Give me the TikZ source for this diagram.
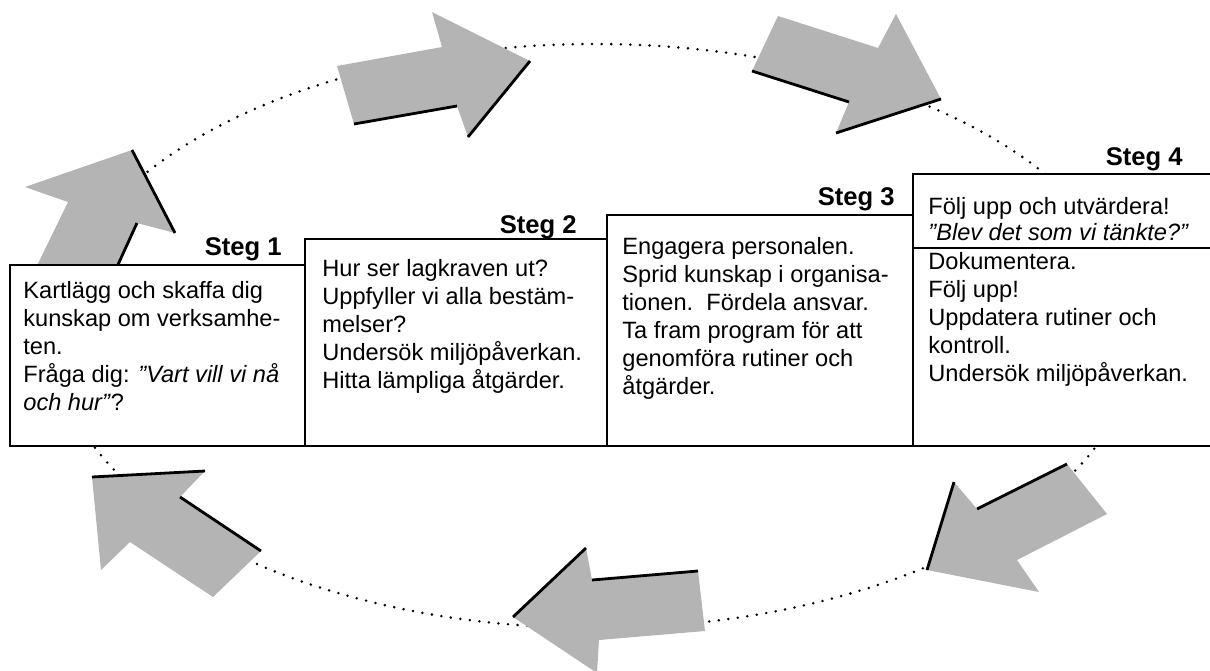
\documentclass[tikz,border=0pt]{standalone}
\usepackage{fontspec}
\setmainfont{Liberation Sans}
\definecolor{pilgra}{RGB}{180,180,180}

\begin{document}
\begin{tikzpicture}[x=0.5pt,y=-0.5pt,
    pil/.style={fill=pilgra,draw=none},
    kant/.style={draw=black,line width=1.4pt},
    ruta/.style={draw=black,fill=white,line width=1.4pt},
    prickar/.style={draw=black,line width=1.4pt,line cap=round,dash pattern=on 0pt off 4.8pt},
    steglabel/.style={anchor=base east,inner sep=0pt,font=\fontsize{12.8}{15}\selectfont\bfseries},
    rutatext/.style={anchor=base west,align=left,inner sep=0pt,font=\fontsize{11.8}{14}\selectfont}]
		\useasboundingbox (0,0) rectangle (1210,670);
		\clip (0,0) rectangle (1210,670);
		\draw [prickar] (595,336) ellipse [x radius=270.5pt, y radius=146pt];
		\fill [pil] (30,280) -- (68,202) -- (25,187) -- (132,150) -- (175,233) -- (137,223) -- (111,280) -- cycle;
		\draw [kant] (132,150) -- (175,233);
		\draw [kant] (137,223) -- (111,280);
		\fill [pil] (337,66) -- (442,47) -- (432,12) -- (530,61) -- (468,137) -- (457,106) -- (354,124) -- cycle;
		\draw [kant] (354,124) -- (457,106);
		\draw [kant] (468,137) -- (530,61);
		\fill [pil] (778,16) -- (878,48) -- (896,14) -- (941,99) -- (836,133) -- (849,102) -- (752,71) -- cycle;
		\draw [kant] (752,71) -- (849,102);
		\draw [kant] (836,133) -- (941,99);
		\fill [pil] (1067,464) -- (1107,514) -- (1017,560) -- (1039,592) -- (927,570) -- (954,482) -- (977,509) -- cycle;
		\draw [kant] (1067,464) -- (977,509);
		\draw [kant] (954,482) -- (927,570);
		\fill [pil] (698,571) -- (705,631) -- (599,640) -- (597,673) -- (513,617) -- (586,548) -- (592,580) -- cycle;
		\draw [kant] (513,617) -- (586,548);
		\draw [kant] (592,580) -- (698,571);
		\fill [pil] (92,477) -- (205,471) -- (180,497) -- (261,551) -- (213,597) -- (130,542) -- (101,570) -- cycle;
		\draw [kant] (92,477) -- (205,471);
		\draw [kant] (180,497) -- (261,551);
		\draw [ruta] (10,265) rectangle (305,446);
		\draw [ruta] (305,239) rectangle (607,446);
		\draw [ruta] (607,215) rectangle (913,446);
		\draw [ruta] (913,174) rectangle (1216,446);
		\draw [draw=black,line width=0.8pt] (913,248) -- (1210,248);
		\node [steglabel] (steg1) at (282,255) {Steg 1};
		\node [steglabel] (steg2) at (577,233) {Steg 2};
		\node [steglabel] (steg3) at (895,205) {Steg 3};
		\node [steglabel] (steg4) at (1183,165) {Steg 4};
		\node [rutatext] (text1) at (23,410) {Kartlägg och skaffa dig\\kunskap om verksamhe-\\ten.\\Fråga dig: \textit{”Vart vill vi nå}\\\textit{och hur”}?};
		\node [rutatext] (text2) at (322,388) {Hur ser lagkraven ut?\\Uppfyller vi alla bestäm-\\melser?\\Undersök miljöpåverkan.\\Hitta lämpliga åtgärder.};
		\node [rutatext] (text3) at (622,394) {Engagera personalen.\\Sprid kunskap i organisa-\\tionen.\ \ Fördela ansvar.\\Ta fram program för att\\genomföra rutiner och\\åtgärder.};
		\node [rutatext] (text4a) at (928,240) {Följ upp och utvärdera!\\[-1pt]\textit{”Blev det som vi tänkte?”}};
		\node [rutatext] (text4b) at (928,381) {Dokumentera.\\Följ upp!\\Uppdatera rutiner och\\kontroll.\\Undersök miljöpåverkan.};
\end{tikzpicture}
\end{document}
